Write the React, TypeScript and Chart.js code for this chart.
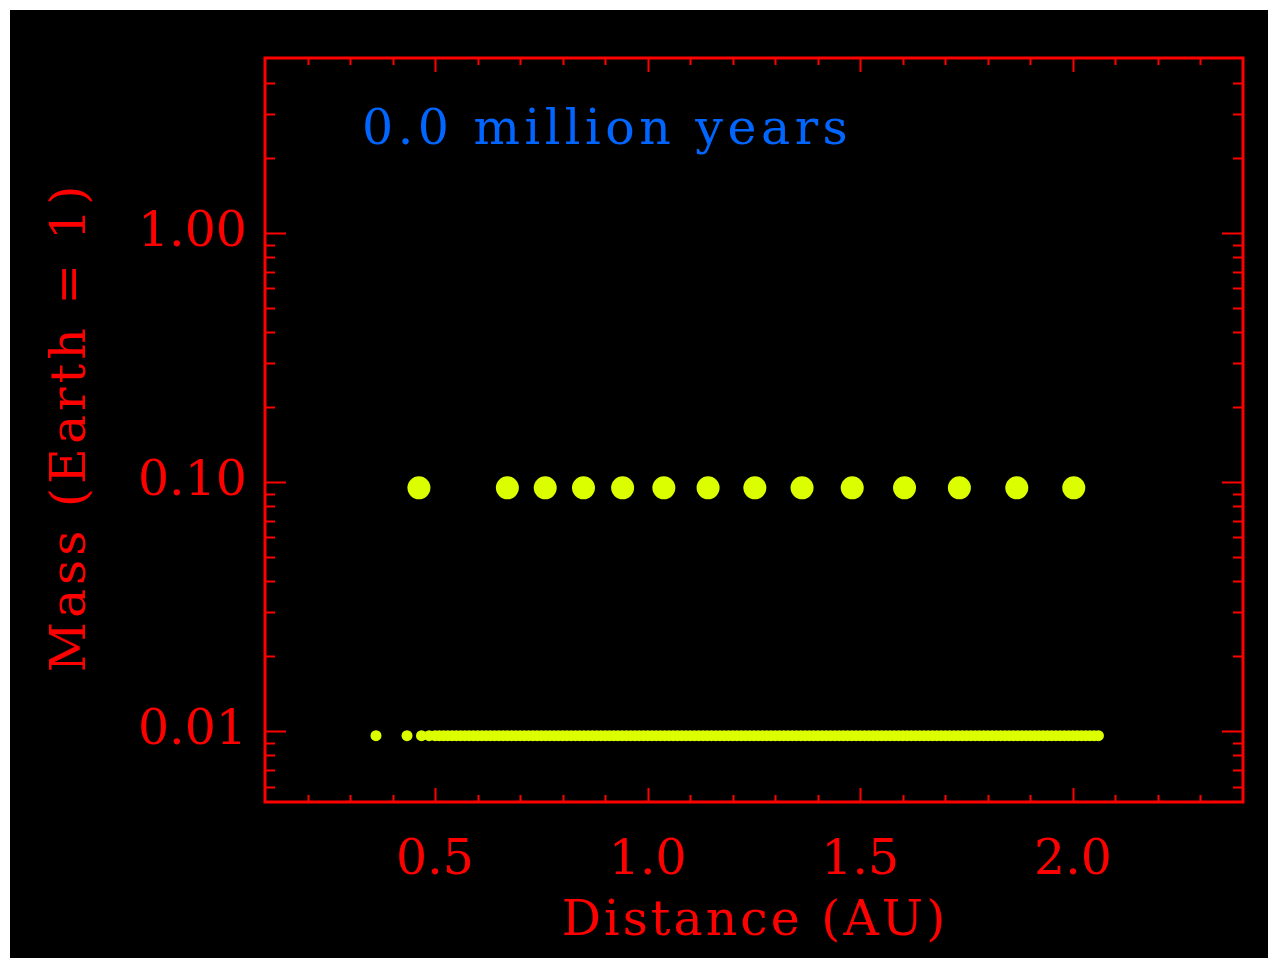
import React, { useEffect, useRef } from "react";
import { Chart, registerables } from "chart.js";

Chart.register(...registerables);

// ---- text ----
const TITLE_X = "Distance (AU)";
const TITLE_Y = "Mass (Earth = 1)";
const ANNOTATION = "0.0 million years";

// ---- data (distance in AU, mass in Earth masses) ----
const bigDistance = [0.462, 0.670, 0.759, 0.849, 0.941, 1.038, 1.142, 1.252, 1.363, 1.481, 1.604, 1.733, 1.868, 2.002];
const BIG_MASS = 0.095;
const smallDistance = [
  0.361, 0.434, 0.468, 0.486,
  0.50, 0.51, 0.52, 0.53, 0.54, 0.55, 0.56, 0.57, 0.58, 0.59,
  0.60, 0.61, 0.62, 0.63, 0.64, 0.65, 0.66, 0.67, 0.68, 0.69,
  0.70, 0.71, 0.72, 0.73, 0.74, 0.75, 0.76, 0.77, 0.78, 0.79,
  0.80, 0.81, 0.82, 0.83, 0.84, 0.85, 0.86, 0.87, 0.88, 0.89,
  0.90, 0.91, 0.92, 0.93, 0.94, 0.95, 0.96, 0.97, 0.98, 0.99,
  1.00, 1.01, 1.02, 1.03, 1.04, 1.05, 1.06, 1.07, 1.08, 1.09,
  1.10, 1.11, 1.12, 1.13, 1.14, 1.15, 1.16, 1.17, 1.18, 1.19,
  1.20, 1.21, 1.22, 1.23, 1.24, 1.25, 1.26, 1.27, 1.28, 1.29,
  1.30, 1.31, 1.32, 1.33, 1.34, 1.35, 1.36, 1.37, 1.38, 1.39,
  1.40, 1.41, 1.42, 1.43, 1.44, 1.45, 1.46, 1.47, 1.48, 1.49,
  1.50, 1.51, 1.52, 1.53, 1.54, 1.55, 1.56, 1.57, 1.58, 1.59,
  1.60, 1.61, 1.62, 1.63, 1.64, 1.65, 1.66, 1.67, 1.68, 1.69,
  1.70, 1.71, 1.72, 1.73, 1.74, 1.75, 1.76, 1.77, 1.78, 1.79,
  1.80, 1.81, 1.82, 1.83, 1.84, 1.85, 1.86, 1.87, 1.88, 1.89,
  1.90, 1.91, 1.92, 1.93, 1.94, 1.95, 1.96, 1.97, 1.98, 1.99,
  2.00, 2.01, 2.02, 2.03, 2.04, 2.05, 2.06,
];
const SMALL_MASS = 0.0096;

// ---- axes ----
const X_MIN = 0.1;
const X_MAX = 2.4;
const Y_MIN = 0.0052;
const Y_MAX = 5.05;
const xMajorTicks = [0.5, 1.0, 1.5, 2.0];
const xTickLabels = ["0.5", "1.0", "1.5", "2.0"];
const xMinorTicks = [0.2, 0.3, 0.4, 0.6, 0.7, 0.8, 0.9, 1.1, 1.2, 1.3, 1.4, 1.6, 1.7, 1.8, 1.9, 2.1, 2.2, 2.3];
const yMajorTicks = [0.01, 0.1, 1];
const yTickLabels = ["0.01", "0.10", "1.00"];
const yMinorTicks = [
  0.006, 0.007, 0.008, 0.009,
  0.02, 0.03, 0.04, 0.05, 0.06, 0.07, 0.08, 0.09,
  0.2, 0.3, 0.4, 0.5, 0.6, 0.7, 0.8, 0.9,
  2, 3, 4,
];

// ---- styles ----
const RED = "#ff0000";
const BLUE = "#0066ff";
const YELLOW = "#dcff00";
const FONT = "'DejaVu Serif', serif";
const FONT_SIZE = 49;

const framePlugin = {
  id: "idlFrame",
  afterDraw(chart: any) {
    const { ctx, chartArea: a, scales } = chart;
    const xs = scales.x;
    const ys = scales.y;
    ctx.save();
    ctx.strokeStyle = RED;
    ctx.lineWidth = 2;
    ctx.beginPath();
    const xTick = (v: number, len: number) => {
      const px = Math.round(xs.getPixelForValue(v)) + 0.5;
      ctx.moveTo(px, a.bottom);
      ctx.lineTo(px, a.bottom - len);
      ctx.moveTo(px, a.top);
      ctx.lineTo(px, a.top + len);
    };
    const yTick = (v: number, len: number) => {
      const py = Math.round(ys.getPixelForValue(v)) + 0.5;
      ctx.moveTo(a.left, py);
      ctx.lineTo(a.left + len, py);
      ctx.moveTo(a.right, py);
      ctx.lineTo(a.right - len, py);
    };
    xMajorTicks.forEach((v) => xTick(v, 14));
    xMinorTicks.forEach((v) => xTick(v, 7));
    yMajorTicks.forEach((v) => yTick(v, 21));
    yMinorTicks.forEach((v) => yTick(v, 10));
    ctx.stroke();

    ctx.lineWidth = 3;
    ctx.strokeRect(a.left, a.top, a.right - a.left, a.bottom - a.top);

    ctx.font = `${FONT_SIZE}px ${FONT}`;
    ctx.textBaseline = "alphabetic";

    // x title
    ctx.fillStyle = RED;
    (ctx as any).letterSpacing = "3px";
    ctx.textAlign = "center";
    ctx.fillText(TITLE_X, (a.left + a.right) / 2 + 1, 925);

    // y title
    (ctx as any).letterSpacing = "4px";
    ctx.save();
    ctx.translate(75, 417);
    ctx.rotate(-Math.PI / 2);
    ctx.textAlign = "center";
    ctx.fillText(TITLE_Y, 0, 0);
    ctx.restore();

    // annotation
    (ctx as any).letterSpacing = "4.5px";
    ctx.fillStyle = BLUE;
    ctx.textAlign = "left";
    ctx.fillText(ANNOTATION, 352, 134);
    (ctx as any).letterSpacing = "0px";
    ctx.restore();
  },
};

export default function App() {
  const ref = useRef<HTMLCanvasElement | null>(null);

  useEffect(() => {
    if (!ref.current) return;
    const chart = new Chart(ref.current, {
      type: "scatter",
      data: {
        datasets: [
          {
            label: "embryos",
            data: bigDistance.map((d) => ({ x: d, y: BIG_MASS })),
            backgroundColor: YELLOW,
            borderWidth: 0,
            pointRadius: 11.5,
            pointHoverRadius: 11.5,
          },
          {
            label: "planetesimals",
            data: smallDistance.map((d) => ({ x: d, y: SMALL_MASS })),
            backgroundColor: YELLOW,
            borderWidth: 0,
            pointRadius: 5.5,
            pointHoverRadius: 5.5,
          },
        ],
      },
      options: {
        animation: false,
        responsive: false,
        maintainAspectRatio: false,
        events: [],
        layout: { padding: { top: 48, right: 25, bottom: 0, left: 0 } },
        plugins: {
          legend: { display: false },
          tooltip: { enabled: false },
          title: { display: false },
        },
        scales: {
          x: {
            type: "linear",
            min: X_MIN,
            max: X_MAX,
            afterBuildTicks: (scale: any) => {
              scale.ticks = xMajorTicks.map((v) => ({ value: v }));
            },
            afterFit: (scale: any) => {
              scale.height = 156;
            },
            grid: { display: false, drawTicks: false },
            border: { display: false },
            ticks: {
              color: RED,
              padding: 30,
              maxRotation: 0,
              autoSkip: false,
              font: { family: FONT, size: FONT_SIZE },
              callback: (_v: any, i: number) => xTickLabels[i],
            },
          },
          y: {
            type: "logarithmic",
            min: Y_MIN,
            max: Y_MAX,
            afterBuildTicks: (scale: any) => {
              scale.ticks = yMajorTicks.map((v) => ({ value: v }));
            },
            afterFit: (scale: any) => {
              scale.width = 255;
            },
            grid: { display: false, drawTicks: false },
            border: { display: false },
            ticks: {
              color: RED,
              padding: 18,
              autoSkip: false,
              font: { family: FONT, size: FONT_SIZE },
              callback: (_v: any, i: number) => yTickLabels[i],
            },
          },
        },
      },
      plugins: [framePlugin],
    });
    return () => chart.destroy();
  }, []);

  return (
    <div style={{ width: 1258, height: 948, margin: 2, background: "#000" }}>
      <canvas ref={ref} width={1258} height={948} style={{ display: "block" }} />
    </div>
  );
}
